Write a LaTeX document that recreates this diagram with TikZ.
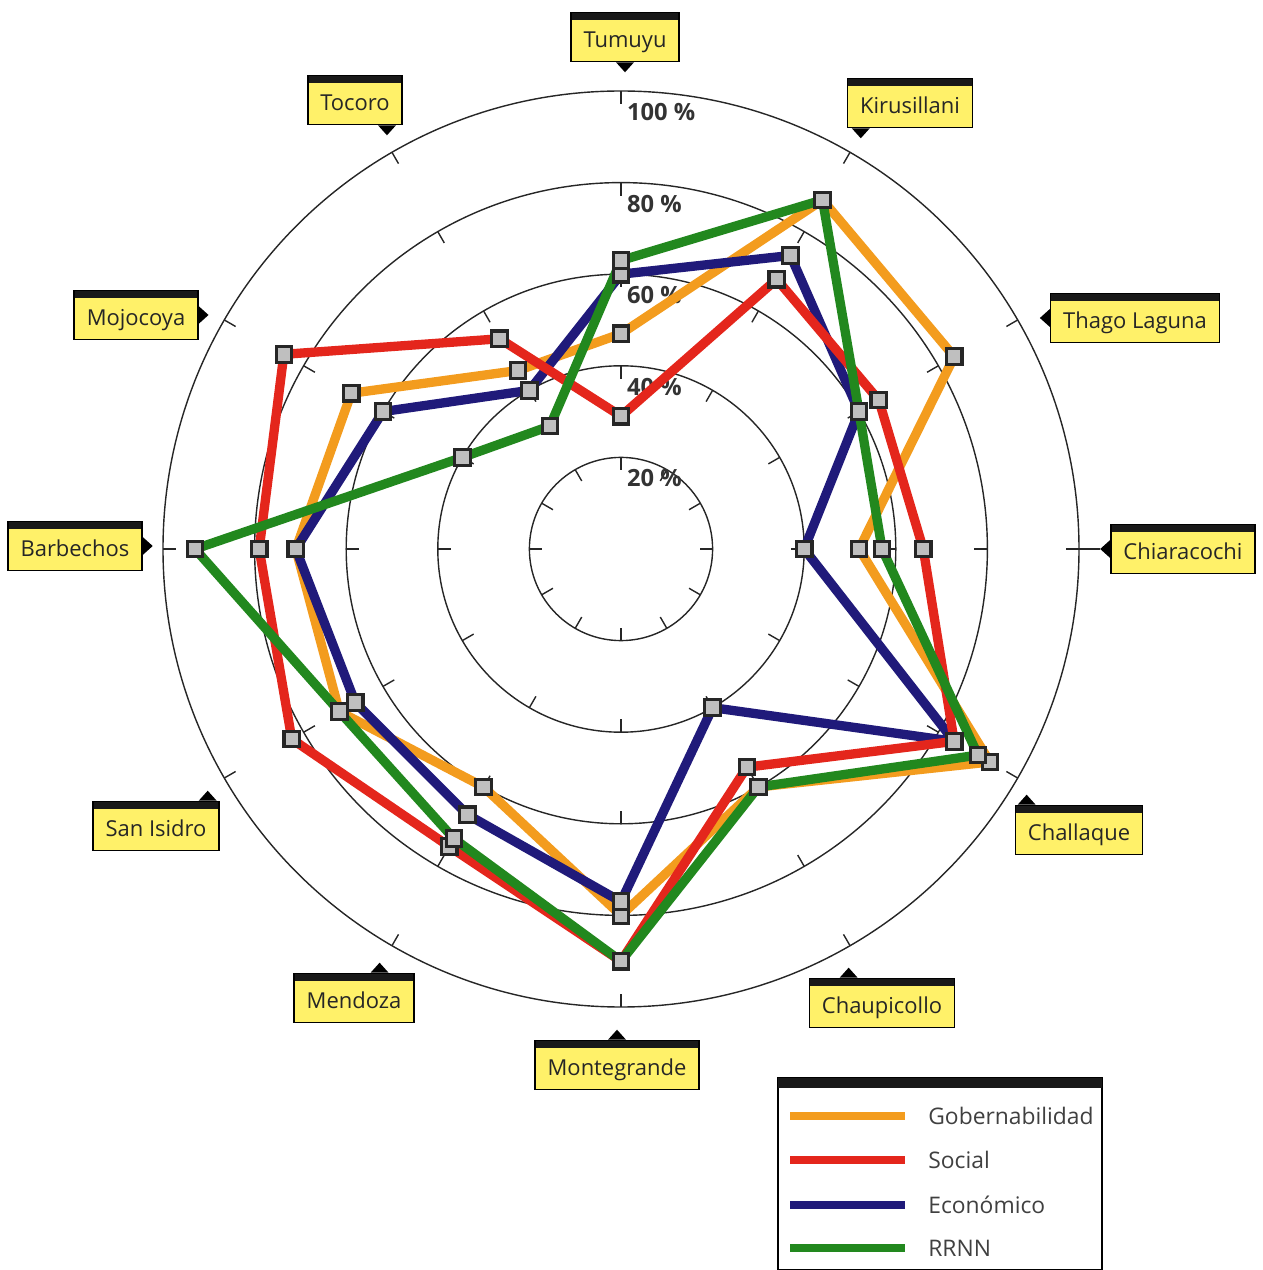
\documentclass[tikz,border=0pt]{standalone}
\usepackage{fontspec}
\setmainfont{Open Sans}
\usetikzlibrary{positioning}
\definecolor{gobcol}{RGB}{243,156,30}
\definecolor{soccol}{RGB}{228,38,28}
\definecolor{ecocol}{RGB}{32,26,122}
\definecolor{rrcol}{RGB}{34,136,30}
\definecolor{tagyellow}{RGB}{255,241,105}
% pointer triangles of the site tags (sizes in px units of the picture)
\newcommand{\tipdown}[2]{\fill (#1) ++(#2,0) ++(-9,0) -- ++(18,0) -- ++(-9,-10) -- cycle;}
\newcommand{\tipup}[2]{\fill (#1) ++(#2,0) ++(-9,0) -- ++(18,0) -- ++(-9,10) -- cycle;}
\newcommand{\tipleft}[1]{\fill (#1) ++(0,9) -- ++(0,-18) -- ++(-10,9) -- cycle;}
\newcommand{\tipright}[1]{\fill (#1) ++(0,9) -- ++(0,-18) -- ++(10,9) -- cycle;}
\tikzstyle{site}=[draw, fill=tagyellow, line width=0.9pt, minimum height=0.98cm,
  inner xsep=0.25cm, text=black!85, font=\fontsize{12.5}{14}\selectfont,
  text height=1.3em, text depth=0.12em,
  path picture={\fill[black!90] (path picture bounding box.north west)
    rectangle ([yshift=-0.15cm]path picture bounding box.north east);}]
\tikzstyle{ring}=[line width=0.8pt, black!85]
\tikzstyle{dotbox}=[draw=black!85, fill=gray!50, line width=1.8pt, inner sep=0pt,
  minimum size=0.31cm, rectangle]
\begin{document}
\begin{tikzpicture}[x=0.02cm, y=0.02cm,
    series/.style={line width=5.3pt, line join=round},
    pctlabel/.style={font=\bfseries\fontsize{13.5}{15}\selectfont, text=black!80, anchor=west, inner sep=1pt},
    legtext/.style={font=\fontsize{13}{15}\selectfont, text=black!75, anchor=west, inner sep=0pt}]
  \useasboundingbox (-621,-721) rectangle (642,549);

  % rings and ticks
  \foreach \r in {1,...,5} {
    \draw[ring] (0,0) circle ({91.6*\r});
    \foreach \a in {0,30,...,330}
      \draw[ring] (\a:{91.6*\r}) -- (\a:{91.6*\r-13});
  }
  \draw[ring] (0:458) -- (0:479);
  \foreach \r/\t in {1/20,2/40,3/60,4/80,5/100}
    \node[pctlabel] (pct\t) at (4,{91.6*\r-21}) {\t\ \%};

  % data, clockwise from Tumuyu
  \foreach \v [count=\i from 0] in {47,88,84,52,93,60,80,60,71,71,68,45}
    \coordinate (g\i) at ({90-30*\i}:{4.58*\v});
  \foreach \v [count=\i from 0] in {29,68,65,66,84,55,90,75,83,79,85,53}
    \coordinate (s\i) at ({90-30*\i}:{4.58*\v});
  \foreach \v [count=\i from 0] in {60,74,60,40,84,40,77,67,67,71,60,40}
    \coordinate (e\i) at ({90-30*\i}:{4.58*\v});
  \foreach \v [count=\i from 0] in {63,88,60,57,90,60,90,73,71,93,40,31}
    \coordinate (r\i) at ({90-30*\i}:{4.58*\v});

  \draw[series, gobcol] (g0) \foreach \i in {1,...,11} {-- (g\i)} -- cycle;
  \draw[series, ecocol] (e0) \foreach \i in {1,...,11} {-- (e\i)} -- cycle;
  \draw[series, soccol] (s0) \foreach \i in {1,...,11} {-- (s\i)} -- cycle;
  \draw[series, rrcol] (r0) \foreach \i in {1,...,11} {-- (r\i)} -- cycle;
  \foreach \s in {g,e,s,r}
    \foreach \i in {0,...,11}
      \node[dotbox] (dot-\s-\i) at (\s\i) {};

  % site tags
  \node[site] (tum) at (4,512) {Tumuyu};
  \node[site] (kir) at (289,446) {Kirusillani};
  \node[site] (tha) at (514,231) {Thago Laguna};
  \node[site] (chi) at (562,0) {Chiaracochi};
  \node[site] (cha) at (458,-281) {Challaque};
  \node[site] (chp) at (261,-454) {Chaupicollo};
  \node[site] (mon) at (-4,-516) {Montegrande};
  \node[site] (men) at (-267,-449) {Mendoza};
  \node[site] (sai) at (-465,-277) {San Isidro};
  \node[site] (bar) at (-546,3) {Barbechos};
  \node[site] (moj) at (-485,234) {Mojocoya};
  \node[site] (toc) at (-266,449) {Tocoro};
  \tipdown{tum.south}{0}
  \tipdown{kir.south west}{14}
  \tipdown{toc.south east}{-16}
  \tipleft{tha.west}
  \tipleft{chi.west}
  \tipright{moj.east}
  \tipright{bar.east}
  \tipup{cha.north west}{12}
  \tipup{chp.north west}{40}
  \tipup{mon.north}{0}
  \tipup{men.north east}{-35}
  \tipup{sai.north east}{-12}

  % legend
  \draw[line width=0.9pt] (157,-529) rectangle (481,-721);
  \fill[black!90] (157,-529) rectangle (481,-539);
  \foreach \c/\t/\y [count=\k] in {gobcol/Gobernabilidad/-567, soccol/Social/-611,
      ecocol/Económico/-656, rrcol/RRNN/-699} {
    \coordinate (sw\k) at (169,\y);
    \coordinate (se\k) at (284,\y);
    \draw[\c, line width=4.6pt] (sw\k) -- (se\k);
    \node[legtext] (lt\k) at (307,\y) {\t};
  }
\end{tikzpicture}
\end{document}
